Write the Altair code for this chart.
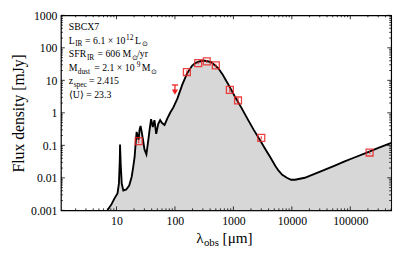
import altair as alt
import pandas as pd

# ---------------- data ----------------
wave_model = [7.0, 8.24, 9.25, 10.4, 11.0, 11.4, 11.5, 11.8, 12.3, 13.1, 14.7, 16.5, 18.2, 19.3,
              20.4, 21.2, 22.1, 22.9, 23.9, 24.8, 25.8, 26.8, 28.4, 30.1, 32.5, 35.1, 37.2, 39.1,
              41.8, 44.6, 47.8, 51.7, 55.8, 60.3, 66.4, 74.5, 83.7, 94.0, 110, 133, 162, 196, 222,
              262, 308, 363, 424, 476, 549, 649, 757, 883, 1042, 1352, 1792, 2232, 2926, 3548,
              4305, 5224, 5929, 6850, 8210, 9700, 11320, 13740, 16640, 24490, 36060, 53090,
              78160, 114800, 192200, 302000, 505000]
flux_model = [0.001, 0.00155, 0.00234, 0.00331, 0.00662, 0.0374, 0.106, 0.0265, 0.0066, 0.00408,
              0.00438, 0.00577, 0.0108, 0.0215, 0.043, 0.106, 0.26, 0.197, 0.149, 0.30, 0.394,
              0.279, 0.149, 0.0748, 0.0528, 0.149, 0.343, 0.64, 0.367, 0.597, 0.226, 0.453, 0.597,
              0.485, 0.423, 0.686, 1.04, 1.47, 2.74, 7.23, 16.6, 27.9, 33.8, 38.0, 40.8, 38.6, 35.5,
              29.8, 23.9, 15.5, 9.53, 5.87, 3.37, 1.50, 0.597, 0.299, 0.133, 0.0748, 0.042, 0.023,
              0.0166, 0.01236, 0.01004, 0.00874, 0.00874, 0.00936, 0.01004, 0.01324, 0.01746,
              0.0235, 0.0315, 0.0415, 0.0594, 0.083, 0.119]

obs_wave = [24, 160, 250, 350, 500, 870, 1200, 3000, 214000]
obs_flux = [0.135, 18.0, 34.0, 38.5, 29.0, 5.1, 2.4, 0.17, 0.060]
obs_err = [0.02, 2.5, 3.0, 4.0, 3.5, 0.8, 0.5, 0.02, 0.006]

ul_wave = [100]
ul_flux = [7.2]

x_major = [10, 100, 1000, 10000, 100000]
y_major = [0.001, 0.01, 0.1, 1, 10, 100, 1000]

# ---------------- layout ----------------
W, H = 337, 199
XDOM = [1.12, 5e5]
YDOM = [0.001, 1000]
FONT = "Liberation Serif"
RED = "#ee2222"

xs = alt.Scale(type="log", domain=XDOM)
ys = alt.Scale(type="log", domain=YDOM)

x_minor = [k * 10 ** d for d in range(0, 6) for k in range(2, 10)
           if XDOM[0] <= k * 10 ** d <= XDOM[1]]
y_minor = [k * 10.0 ** d for d in range(-3, 3) for k in range(2, 10)]

model = pd.DataFrame({"wave": wave_model, "flux": flux_model})
obs = pd.DataFrame({"wave": obs_wave, "flux": obs_flux, "err": obs_err})
obs["lo"] = obs["flux"] - obs["err"]
obs["hi"] = obs["flux"] + obs["err"]
ul = pd.DataFrame({"wave": ul_wave, "flux": ul_flux})
ul["tip"] = ul["flux"] * 0.6
ul["tri"] = ul["flux"] * 0.6

xaxis = alt.Axis(values=x_major, labelExpr="format(datum.value, '~g')",
                 ticks=False, domain=False, grid=False, title=None,
                 labelFont=FONT, labelFontSize=12, labelColor="black", labelPadding=5)
yaxis = alt.Axis(values=y_major, labelExpr="format(datum.value, '~g')",
                 ticks=False, domain=False, grid=False,
                 title="Flux density [mJy]", titleFont=FONT, titleFontSize=16,
                 titleFontWeight="normal", titleColor="black",
                 titleX=-43, titleY=H / 2, titleAlign="center", titleBaseline="middle",
                 labelFont=FONT, labelFontSize=12, labelColor="black", labelPadding=4)

X = lambda f="wave": alt.X(f"{f}:Q", scale=xs, axis=xaxis)
Y = lambda f="flux": alt.Y(f"{f}:Q", scale=ys, axis=yaxis)

area = alt.Chart(model).mark_area(color="#d7d7d7", clip=True).encode(
    x=X(), y=Y(), y2=alt.datum(0.001))
line = alt.Chart(model).mark_line(color="black", strokeWidth=1.9, clip=True).encode(x=X(), y=Y())

errs = alt.Chart(obs).mark_rule(color=RED, strokeWidth=1.2, opacity=0.85).encode(
    x=X(), y=Y("lo"), y2="hi:Q")
squares = alt.Chart(obs).mark_point(shape="square", filled=False, size=50, color=RED,
                                    strokeWidth=1.3, opacity=0.85).encode(x=X(), y=Y())

ul_rule = alt.Chart(ul).mark_rule(color=RED, strokeWidth=1.3).encode(x=X(), y=Y(), y2="tip:Q")
ul_cap = alt.Chart(ul).mark_point(shape="M-1,0L1,0", filled=False, size=40, color=RED,
                                  strokeWidth=1.3, opacity=1).encode(x=X(), y=Y())
ul_tri = alt.Chart(ul).mark_point(shape="triangle-down", filled=True, size=40, color=RED,
                                  opacity=1).encode(x=X(), y=Y("tri"))


def xticks(vals, L, top):
    df = pd.DataFrame({"wave": vals})
    y0, y1 = (0, L) if top else (H, H - L)
    return alt.Chart(df).mark_rule(color="black", strokeWidth=0.8).encode(
        x=X(), y=alt.value(y0), y2=alt.value(y1))


def yticks(vals, L, right):
    df = pd.DataFrame({"flux": vals})
    x0, x1 = (W, W - L) if right else (0, L)
    return alt.Chart(df).mark_rule(color="black", strokeWidth=0.8).encode(
        y=Y(), x=alt.value(x0), x2=alt.value(x1))


ticks = [xticks(x_major, 4, False), xticks(x_major, 4, True),
         xticks(x_minor, 2, False), xticks(x_minor, 2, True),
         yticks(y_major, 4, False), yticks(y_major, 4, True),
         yticks(y_minor, 2, False), yticks(y_minor, 2, True)]

# annotation text pieces: (text, x, baseline y, size)
one = pd.DataFrame({"a": [0]})
MAIN, SMALL = 10, 7.5
SUB, SUP = 2.5, -4
base = [15.0, 29.0, 43.0, 57.0, 70.5, 84.0]
pieces = [
    ("SBCX7", 8, base[0], MAIN),
    ("L", 8, base[1], MAIN), ("IR", 14.5, base[1] + SUB, SMALL),
    ("= 6.1 × 10", 24.7, base[1], MAIN), ("12", 66.5, base[1] + SUP, SMALL),
    ("L", 75.7, base[1], MAIN), ("⊙", 82.3, base[1] + SUB, SMALL),
    ("SFR", 8, base[2], MAIN), ("IR", 26.5, base[2] + SUB, SMALL),
    ("= 606 M", 37.3, base[2], MAIN), ("⊙", 72.3, base[2] + SUB, SMALL),
    ("/yr", 77.8, base[2], MAIN),
    ("M", 8, base[3], MAIN), ("dust", 17.2, base[3] + SUB, SMALL),
    ("= 2.1 × 10", 34, base[3], MAIN), ("9", 77.3, base[3] + SUP, SMALL),
    ("M", 82.6, base[3], MAIN), ("⊙", 91.9, base[3] + SUB, SMALL),
    ("z", 8, base[4], MAIN), ("spec", 13, base[4] + SUB, SMALL),
    ("= 2.415", 28.7, base[4], MAIN),
    ("⟨U⟩ = 23.3", 8, base[5], MAIN),
    # x-axis title
    ("λ", 138, 232, 15.5), ("obs", 146, 235.5, 11), ("[μm]", 165, 232, 15.5),
]
texts = [alt.Chart(one).mark_text(text=t, font=FONT, fontSize=s, align="left",
                                  baseline="alphabetic", color="black").encode(
    x=alt.value(x), y=alt.value(y)) for (t, x, y, s) in pieces]

chart = alt.layer(area, line, errs, squares, ul_rule, ul_cap, ul_tri, *ticks, *texts).properties(
    width=W, height=H,
    autosize=alt.AutoSizeParams(type="none"),
    padding={"left": 54, "top": 5, "right": 8, "bottom": 38},
).configure_view(stroke="black", strokeWidth=1.2)

chart.save("out.html", embed_options={"renderer": "svg", "actions": False})
